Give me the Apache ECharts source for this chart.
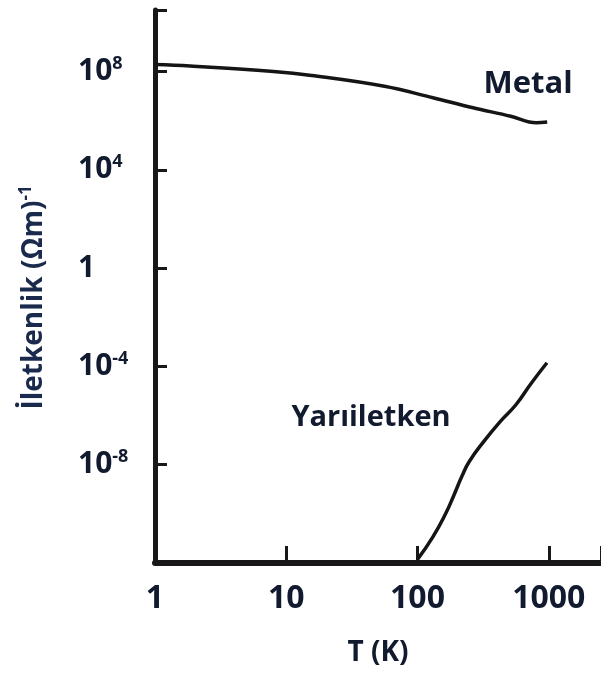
<!DOCTYPE html>
<html>
<head>
<meta charset="utf-8">
<script src="https://cdn.jsdelivr.net/npm/echarts@6/dist/echarts.min.js"></script>
<style>
  html, body { margin: 0; padding: 0; background: #fff; }
  #chart { width: 601px; height: 677px; }
</style>
</head>
<body>
<div id="chart"></div>
<script>
// sıcaklık (K) ve iletkenlik (Ωm)^-1 değerleri
const metalT = [1, 1.85, 8, 15.6, 56, 131, 260, 513, 804, 973]
const metalSigma = [1.9e8, 1.66e8, 1e8, 6.9e7, 2.5e7, 8.5e6, 3.4e6, 1.5e6, 8.1e5, 8.7e5]

const semiT = [100, 131, 165, 189, 217, 248, 326, 428, 562, 738, 969]
const semiSigma = [1.4e-12, 1.15e-11, 1.1e-10, 5.6e-10, 3.2e-9, 1.35e-8, 1.0e-7, 5.8e-7, 2.75e-6, 2.1e-5, 1.4e-4]

const xTicks = [1, 10, 100, 1000]
const yTickExp = [-8, -4, 0, 4, 8]

const textColor = '#111a2e'
const font = 'Open Sans'

function pairs(xs, ys) {
  return xs.map((x, i) => [x, ys[i]])
}

const chart = echarts.init(document.getElementById('chart'), null, { renderer: 'canvas' })

const option = {
  animation: false,
  backgroundColor: '#fff',
  grid: { left: 155, right: 0, top: 10, bottom: 114, containLabel: false, outerBoundsMode: 'none' },
  xAxis: {
    type: 'log',
    logBase: 10,
    min: 1,
    max: 2500,
    name: 'T (K)',
    nameLocation: 'middle',
    nameGap: 76,
    nameTextStyle: { color: textColor, fontFamily: font, fontWeight: 'bold', fontSize: 28 },
    axisLine: { lineStyle: { color: '#1a1718', width: 6 } },
    axisTick: { inside: true, length: 17, lineStyle: { color: '#1a1718', width: 3 } },
    axisLabel: {
      margin: 20,
      color: textColor,
      fontFamily: font,
      fontWeight: 'bold',
      fontSize: 32,
      formatter: v => {
        const r = xTicks.find(t => Math.abs(t - v) / t < 1e-6)
        return r ? String(r) : ''
      }
    },
    splitLine: { show: false }
  },
  yAxis: {
    type: 'log',
    logBase: 10000,
    min: 1e-12,
    max: 3.16e10,
    name: '{b|İletkenlik (Ωm)}{s|-1}',
    nameLocation: 'middle',
    nameRotate: 90,
    nameGap: 105,
    nameTextStyle: {
      color: textColor,
      padding: [0, 0, 0, -22],
      rich: {
        b: { color: '#1a2a4c', fontFamily: font, fontWeight: 'bold', fontSize: 28, lineHeight: 32 },
        s: { color: '#1a2a4c', fontFamily: font, fontWeight: 'bold', fontSize: 17, verticalAlign: 'top', lineHeight: 18 }
      }
    },
    axisLine: { lineStyle: { color: '#1a1718', width: 5 } },
    axisTick: { inside: true, length: 12, lineStyle: { color: '#1a1718', width: 3 } },
    axisLabel: {
      margin: 77,
      align: 'left',
      formatter: v => {
        const e = Math.round(Math.log10(v))
        if (yTickExp.indexOf(e) < 0) return ''
        if (e === 0) return '{b|1}'
        return '{b|10}{s|' + e + '}'
      },
      rich: {
        b: { color: textColor, fontFamily: font, fontWeight: 'bold', fontSize: 30, lineHeight: 34 },
        s: { color: textColor, fontFamily: font, fontWeight: 'bold', fontSize: 18, verticalAlign: 'top', lineHeight: 20 }
      }
    },
    splitLine: { show: false }
  },
  series: [
    {
      name: 'Metal',
      type: 'line',
      data: pairs(metalT, metalSigma),
      smooth: 0.4,
      symbol: 'none',
      lineStyle: { color: '#151515', width: 3.5 }
    },
    {
      name: 'Yarıiletken',
      type: 'line',
      data: pairs(semiT, semiSigma),
      smooth: 0.5,
      symbol: 'none',
      lineStyle: { color: '#151515', width: 3.5 }
    }
  ],
  // eğri etiketleri
  graphic: [
    {
      type: 'text', x: 528, y: 84,
      style: { text: 'Metal', fill: textColor, font: 'bold 31px "Open Sans"', align: 'center', verticalAlign: 'middle' }
    },
    {
      type: 'text', x: 371, y: 418,
      style: { text: 'Yarıiletken', fill: textColor, font: 'bold 29px "Open Sans"', align: 'center', verticalAlign: 'middle' }
    }
  ]
}

chart.setOption(option)
</script>
</body>
</html>
